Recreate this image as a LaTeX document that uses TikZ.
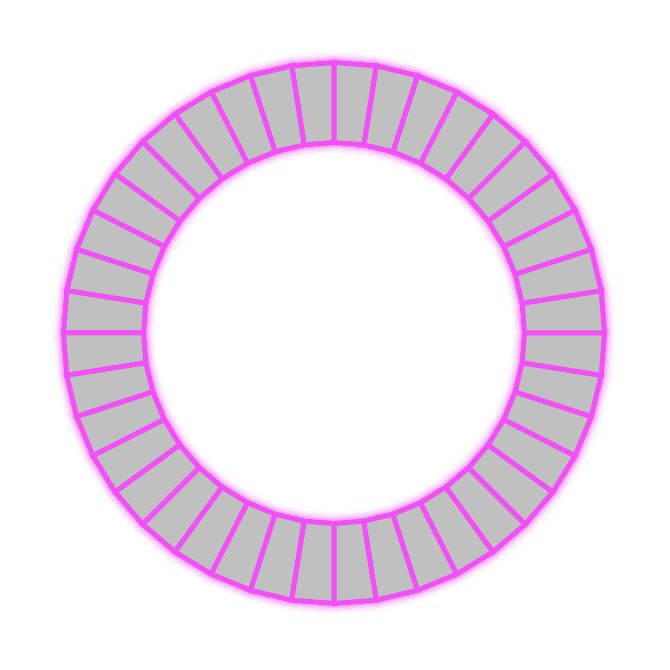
\documentclass[tikz,border=0pt]{standalone}
\definecolor{mag}{RGB}{240,80,245}
\definecolor{seg}{RGB}{192,192,192}
\tikzset{
  glowline/.style={draw=mag, line join=round},
  segbox/.style={fill=seg, draw=mag, line width=5pt, line join=miter}
}
\begin{document}
\begin{tikzpicture}[x=1pt,y=1pt]
\useasboundingbox (0,0) rectangle (670,670);
\begin{scope}[shift={(334,337)}]
  % glow around outer and inner outlines
  \foreach \w/\o in {22/0.06,17/0.10,13/0.16,9/0.28}{
    \draw[glowline, line width=\w pt, opacity=\o] (90:270.5) \foreach \k in {1,...,39}{ -- (90+9*\k:270.5)} -- cycle;
    \draw[glowline, line width=\w pt, opacity=\o] (90:190.5) \foreach \k in {1,...,39}{ -- (90+9*\k:190.5)} -- cycle;
  }
  % segments
  \foreach \k in {0,...,39}{
    \path[segbox] (90+9*\k:190.5) -- (90+9*\k:270.5) -- (99+9*\k:270.5) -- (99+9*\k:190.5) -- cycle;
  }
\end{scope}
\end{tikzpicture}
\end{document}
